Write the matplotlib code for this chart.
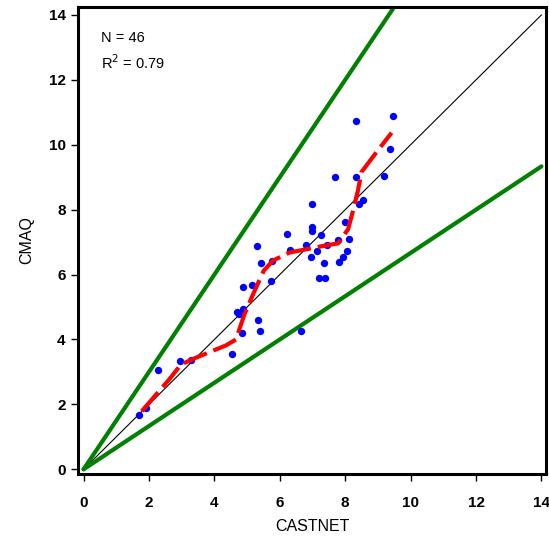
import matplotlib
matplotlib.use('Agg')
import matplotlib.pyplot as plt
import numpy as np

plt.rcParams['font.family'] = ['Liberation Sans', 'DejaVu Sans']

# observed (CASTNET) vs modelled (CMAQ)
castnet = [8.34, 9.45, 9.37, 7.68, 8.34, 9.18, 8.53, 8.43, 6.98, 7.98,
           7.00, 6.98, 7.25, 6.22, 8.11, 7.78, 5.31, 6.32, 6.81, 7.15,
           7.43, 8.07, 6.94, 7.94, 7.80, 7.36, 5.43, 5.76, 5.74, 7.19,
           7.39, 4.86, 5.16, 4.69, 4.88, 5.32, 5.41, 4.84, 6.64, 4.53,
           3.28, 2.94, 2.28, 1.91, 1.71, 4.75]
cmaq = [10.73, 10.89, 9.87, 9.02, 9.00, 9.03, 8.31, 8.17, 8.16, 7.62,
        7.48, 7.35, 7.22, 7.24, 7.10, 7.05, 6.87, 6.75, 6.90, 6.74,
        6.91, 6.74, 6.54, 6.54, 6.40, 6.36, 6.37, 6.43, 5.81, 5.88,
        5.89, 5.63, 5.68, 4.84, 4.95, 4.60, 4.27, 4.19, 4.27, 3.54,
        3.36, 3.34, 3.05, 1.89, 1.66, 4.80]

# smoothed fit (red dashed)
smooth_x = [1.78, 2.62, 2.98, 3.44, 4.36, 4.66, 4.92, 5.23, 5.51, 5.79,
            6.30, 6.61, 7.47, 7.78, 8.09, 8.24, 8.39, 8.50, 9.00, 9.42]
smooth_y = [1.79, 2.77, 3.23, 3.44, 3.82, 4.00, 4.78, 5.50, 6.12, 6.43,
            6.68, 6.74, 6.91, 6.96, 7.40, 7.97, 8.59, 9.16, 9.83, 10.37]

ticks = [0, 2, 4, 6, 8, 10, 12, 14]
n_obs = 46
r2 = 0.79

fig = plt.figure(figsize=(5.49, 5.42), dpi=100)
ax = fig.add_axes([78 / 549, 1 - 474 / 542, (546 - 78) / 549, (474 - 6.5) / 542])

line = np.array([0, 14])
ax.plot(line, line, color='black', lw=0.8, zorder=2)
ax.plot(line, line * 1.5, color='green', lw=3, zorder=2, solid_capstyle='round')
ax.plot(line, line / 1.5, color='green', lw=3, zorder=2, solid_capstyle='round')

ax.plot(castnet, cmaq, 'o', color='blue', ms=5.3, mec='none', zorder=3)
ax.plot(smooth_x, smooth_y, color='red', lw=3, dashes=(6, 1.7), zorder=4)

ax.set_xlim(-0.17, 14.14)
ax.set_ylim(-0.145, 14.26)
ax.set_xticks(ticks)
ax.set_yticks(ticks)
ax.tick_params(direction='out', length=5, width=1, labelsize=11)
ax.tick_params(axis='x', pad=11)
ax.tick_params(axis='y', pad=4)
for lab in ax.get_xticklabels() + ax.get_yticklabels():
    lab.set_fontweight('bold')
for s in ax.spines.values():
    s.set_linewidth(2.2)

ax.set_xlabel('CASTNET', fontsize=11.5, labelpad=6)
ax.set_ylabel('CMAQ', fontsize=11.5, labelpad=10)

ax.text(0.05, 0.948, 'N = %d' % n_obs, transform=ax.transAxes, fontsize=10.5, va='top')
ax.text(0.05, 0.9, r'R$^2$ = %.2f' % r2, transform=ax.transAxes, fontsize=10.5, va='top')

fig.savefig('out.png', dpi=100)
